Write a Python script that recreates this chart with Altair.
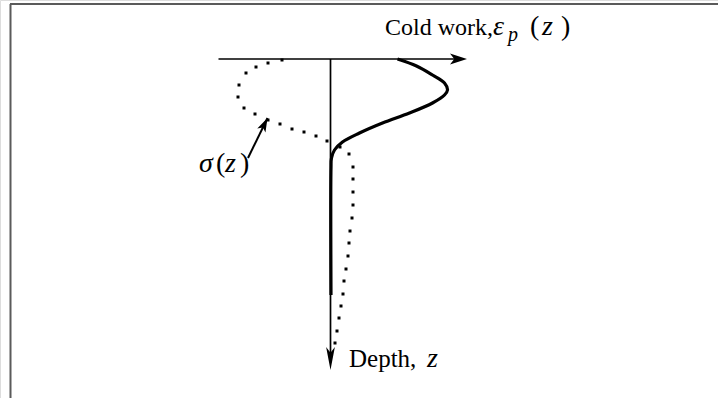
import altair as alt
import pandas as pd

# Cold work (plastic strain) profile: value across, depth down (thick solid curve)
ep_value = [6.7, 8.6, 10.2, 11.4, 11.7, 11.4, 10.2, 7.9, 5.2, 2.9, 1.2, 0.4, 0.1, 0.05, 0.05]
ep_depth = [0.0, 0.7, 1.6, 2.4, 3.1, 3.6, 4.4, 5.4, 6.4, 7.4, 8.3, 9.1, 9.9, 10.9, 23.6]

# Residual stress profile sigma(z) (dotted curve)
sig_value = [-4.85, -6.25, -7.45, -8.45, -9.15, -9.25, -8.65, -7.55, -6.25, -5.05,
             -3.85, -2.65, -1.45, -0.35, 0.95, 1.85, 2.25, 2.25, 2.25, 2.25,
             2.15, 1.95, 1.85, 1.75, 1.55, 1.35, 1.25, 1.05, 0.85, 0.65, 0.45]
sig_depth = [0.1, 0.4, 0.8, 1.4, 2.6, 3.8, 4.9, 5.5, 6.1, 6.5,
             7.0, 7.3, 7.7, 8.2, 8.8, 9.5, 10.8, 12.0, 13.3, 14.6,
             15.9, 17.2, 18.4, 19.7, 21.0, 22.2, 23.5, 24.7, 25.9, 27.2, 28.4]

# Axis extents (value axis across the surface, depth axis downward)
value_axis = [-11.2, 13.65]
depth_axis = [0.0, 31.1]

# Pointer from the sigma label to its curve: tail, head
pointer_value = [-8.25, -6.3]
pointer_depth = [9.9, 5.9]

# Label pieces: text, value, depth, italic?, font size
label_text = ["Cold work,", "\u03b5", "p", "(", "z", ")",
              "Depth,", "z",
              "\u03c3", "(", "z", ")"]
label_value = [5.45, 16.25, 17.75, 19.95, 21.15, 23.05,
               1.85, 9.65,
               -13.15, -11.45, -10.55, -9.05]
label_depth = [-2.4, -2.4, -1.85, -2.4, -2.4, -2.4,
               30.8, 30.8,
               11.3, 11.3, 11.3, 11.3]
label_italic = [False, True, True, False, True, False,
                False, True,
                True, False, True, False]
label_size = [24, 28, 20, 28, 28, 28,
              25, 28,
              28, 28, 28, 28]

FONT = "Liberation Serif"
xs = alt.Scale(domain=[-33.05, 38.75], nice=False, zero=False)
ys = alt.Scale(domain=[-5.9, 33.9], reverse=True, nice=False, zero=False)


def X(field="v"):
    return alt.X(f"{field}:Q", scale=xs, axis=None)


def Y(field="z"):
    return alt.Y(f"{field}:Q", scale=ys, axis=None)


ep_df = pd.DataFrame({"v": ep_value, "z": ep_depth, "i": range(len(ep_value))})
sig_df = pd.DataFrame({"v": sig_value, "z": sig_depth})
labels = pd.DataFrame({"t": label_text, "v": label_value, "z": label_depth,
                       "it": label_italic, "s": label_size})

# Frame along the top and left edges
frame_top = alt.Chart(pd.DataFrame({"a": [0]})).mark_rule(
    color="#5a5a5a", strokeWidth=2
).encode(x=alt.value(10), x2=alt.value(718), y=alt.value(4))
frame_left = alt.Chart(pd.DataFrame({"a": [0]})).mark_rule(
    color="#5a5a5a", strokeWidth=2
).encode(x=alt.value(10.5), y=alt.value(4), y2=alt.value(398))

# Axes with arrowheads
h_axis = alt.Chart(pd.DataFrame({"v": [value_axis[0]], "v2": [value_axis[1] - 1.0], "z": [0.0]})).mark_rule(
    color="black", strokeWidth=1.7
).encode(x=X(), x2="v2:Q", y=Y())
h_head = alt.Chart(pd.DataFrame({"v": [value_axis[1]], "z": [0.0]})).mark_point(
    shape="M0,0 L-2,-0.65 L-1.5,0 L-2,0.65 Z", size=289, filled=True, color="black", opacity=1
).encode(x=X(), y=Y())

v_axis = alt.Chart(pd.DataFrame({"v": [0.0], "z": [depth_axis[0]], "z2": [depth_axis[1] - 1.2]})).mark_rule(
    color="black", strokeWidth=1.7
).encode(x=X(), y=Y(), y2="z2:Q")
v_head = alt.Chart(pd.DataFrame({"v": [0.0], "z": [depth_axis[1]]})).mark_point(
    shape="M0,0 L-0.38,-2 L0,-1.5 L0.38,-2 Z", size=529, filled=True, color="black", opacity=1
).encode(x=X(), y=Y())

# Dotted stress curve
sig_dots = alt.Chart(sig_df).mark_square(size=9, color="black", opacity=1).encode(x=X(), y=Y())

# Thick cold-work curve
ep_line = alt.Chart(ep_df).mark_line(
    color="black", strokeWidth=3.2, interpolate="catmull-rom"
).encode(x=X(), y=Y(), order="i:Q")

# Pointer arrow for the sigma label
pointer = alt.Chart(pd.DataFrame({"v": [pointer_value[0]], "z": [pointer_depth[0]],
                                  "v2": [pointer_value[1]], "z2": [pointer_depth[1]]})).mark_rule(
    color="black", strokeWidth=2
).encode(x=X(), y=Y(), x2="v2:Q", y2="z2:Q")
pointer_head = alt.Chart(pd.DataFrame({"v": [pointer_value[1]], "z": [pointer_depth[1]]})).mark_point(
    shape="M0,0 L-2,-0.65 L-1.5,0 L-2,0.65 Z", size=196, filled=True, color="black", opacity=1, angle=296
).encode(x=X(), y=Y())

# One text mark per label piece, so each gets its own font size and style
text_layers = []
for k in range(len(labels)):
    row = labels.iloc[[k]]
    style = "italic" if bool(row["it"].iloc[0]) else "normal"
    text_layers.append(
        alt.Chart(row).mark_text(
            font=FONT, fontStyle=style, fontSize=int(row["s"].iloc[0]),
            align="left", baseline="alphabetic", color="black"
        ).encode(x=X(), y=Y(), text="t:N")
    )

chart = alt.layer(
    frame_top, frame_left, sig_dots, h_axis, h_head, v_axis, v_head,
    ep_line, pointer, pointer_head, *text_layers
).properties(
    width=718, height=398, padding=0, autosize=alt.AutoSizeParams(type="none")
).configure_view(stroke=None).configure(background="white")

chart.save("out.html", embed_options={"renderer": "svg", "actions": False})
